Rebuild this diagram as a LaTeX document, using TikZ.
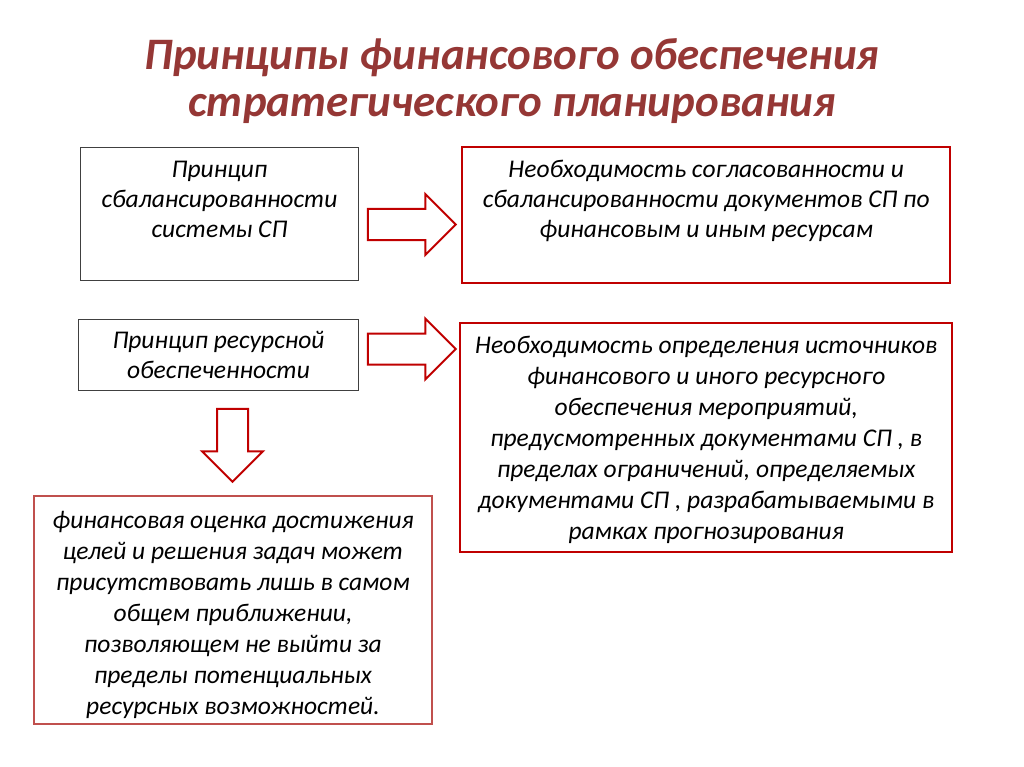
\documentclass[tikz,border=0pt]{standalone}
\usepackage{fontspec}
\setmainfont{Carlito}
\usetikzlibrary{positioning,shapes.arrows}
\definecolor{titlered}{HTML}{953735}
\definecolor{darkred}{HTML}{C00000}
\definecolor{softred}{HTML}{C0504D}
\definecolor{boxgray}{HTML}{404040}

\begin{document}
\begin{tikzpicture}[x=1pt,y=-1pt,
    graybox/.style={draw=boxgray,line width=1pt,anchor=north west,inner sep=0pt},
    redbox/.style={draw=darkred,line width=2.4pt,anchor=north west,inner sep=0pt},
    txt/.style={font=\fontsize{25.5}{31}\selectfont\itshape,align=center,inner sep=0pt},
    txtsmall/.style={font=\fontsize{25.5}{29.5}\selectfont\itshape,align=center,inner sep=0pt},
    bigarrow/.style={single arrow,draw=darkred,fill=white,line width=2pt,
        inner xsep=0pt,inner ysep=14.5pt,single arrow head extend=15pt,minimum height=88pt}]
        % Page
        \useasboundingbox[fill=white] (0,0) rectangle (1024,767);

        % Title
        \node[titlered,font=\fontsize{45}{47}\selectfont\bfseries\itshape,align=center,anchor=base] (title) at (512,117)
            {Принципы финансового обеспечения\\стратегического планирования};

        % Left principles
        \node[graybox,minimum width=278pt,minimum height=133pt] (balbox) at (80,147) {};
        \node[txtsmall,anchor=base] (baltxt) at ([yshift=-90pt]balbox.north)
            {Принцип\\сбалансированности\\системы СП};
        \node[graybox,minimum width=280pt,minimum height=71pt] (resbox) at (78,319) {};
        \node[txtsmall] (restxt) at (resbox.center) {Принцип ресурсной\\обеспеченности};

        % Right consequences
        \node[redbox,minimum width=488pt,minimum height=136pt] (needA) at (461,146) {};
        \node[txtsmall,anchor=base] (needAtxt) at ([yshift=-91pt]needA.north)
            {Необходимость согласованности и\\сбалансированности документов СП по\\финансовым и иным ресурсам};
        \node[redbox,minimum width=492pt,minimum height=229pt] (needB) at (459,322) {};
        \node[txt] (needBtxt) at ([yshift=-2.5pt]needB.center)
            {Необходимость определения источников\\финансового и иного ресурсного\\обеспечения мероприятий,\\предусмотренных документами СП , в\\пределах ограничений, определяемых\\документами СП , разрабатываемыми в\\рамках прогнозирования};

        % Estimate box
        \node[draw=softred,line width=2pt,anchor=north west,inner sep=0pt,minimum width=398pt,minimum height=228pt] (estbox) at (33,495) {};
        \node[txt] (esttxt) at ([yshift=-5pt]estbox.center)
            {финансовая оценка достижения\\целей и решения задач может\\присутствовать лишь в самом\\общем приближении,\\позволяющем не выйти за\\пределы потенциальных\\ресурсных возможностей.};

        % Block arrows
        \node[bigarrow] (arrA) at (404,224.5) {};
        \node[bigarrow] (arrB) at (404,349) {};
        \node[bigarrow,rotate=-90,minimum height=73pt] (arrC) at (232.5,437.5) {};
\end{tikzpicture}
\end{document}
